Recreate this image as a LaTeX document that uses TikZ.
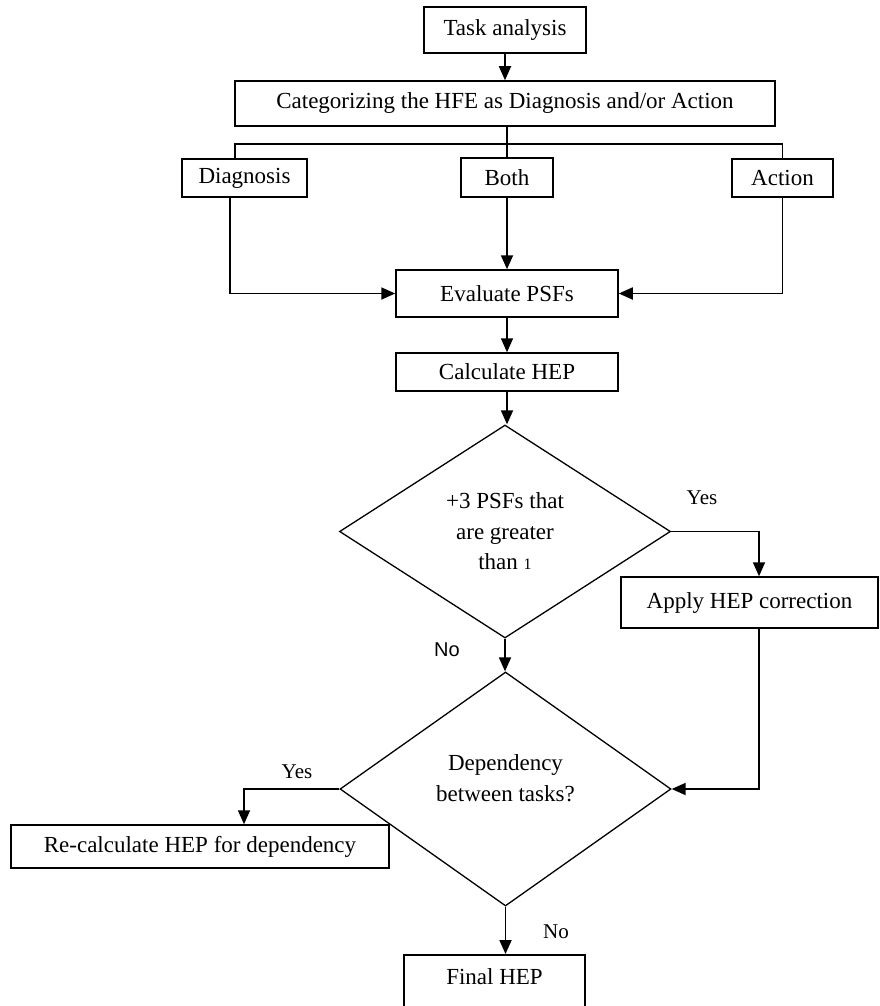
\documentclass[tikz,border=0pt]{standalone}
\usepackage{fontspec}
\setmainfont{Liberation Serif}
\newfontfamily\labelsans{Liberation Sans}
\usetikzlibrary{arrows.meta,shapes.geometric,positioning}
\tikzset{
	hep chart/.style={
		x=1pt, y=-1pt,
		font=\fontsize{23}{30.5}\selectfont,
		ar/.style={draw, line width=1.8pt, -{Triangle[length=14pt,width=12pt]}},
		wire/.style={draw, line width=1.7pt},
		lbl/.style={inner sep=0pt, font=\fontsize{21}{21}\selectfont}},
	blk/.style 2 args={draw, line width=1.5pt, inner sep=0pt,
		minimum width=#1, minimum height=#2},
	dec/.style 2 args={diamond, draw, line width=1.3pt, inner sep=0pt,
		align=center, aspect=1.5, minimum width=#1, minimum height=#2}
}
\begin{document}
\begin{tikzpicture}[hep chart]
   \useasboundingbox (0,0) rectangle (880,1006);
   \clip (0,0) rectangle (880,1006);
   \node[blk={162}{46}] (task) at (505,30) {Task analysis};
   \node[blk={540}{45}] (categ) at (505,103.5) {Categorizing the HFE as Diagnosis and/or Action};
   \node[blk={125}{38}] (diag) at (244.5,178) {Diagnosis};
   \node[blk={92}{39}] (both) at (507,177.5) {Both};
   \node[blk={101}{38}] (action) at (782.5,178) {Action};
   \node[blk={222}{47}] (psf) at (507,293.5) {Evaluate PSFs};
   \node[blk={222}{38}] (calc) at (507,372) {Calculate HEP};
   \node[dec={331}{213}] (corr) at (505,531.5) {+3 PSFs that\\are greater\\than {\fontsize{16}{16}\selectfont 1}};
   \node[blk={257}{51}] (apply) at (749.5,602.5) {Apply HEP correction};
   \node[dec={331}{234}, label={[align=center, yshift=11pt]center:Dependency\\between tasks?}] (dep) at (505.5,789) {};
   \node[blk={378}{43}] (recalc) at (200,846.5) {Re-calculate HEP for dependency};
   \node[blk={181}{0}, anchor=north, inner ysep=14pt, text height=16pt, text depth=40pt] (final) at (494.5,954) {Final HEP};
   \node[lbl] (yes1) at (702,498) {Yes};
   \node[lbl, font=\labelsans\fontsize{20}{20}\selectfont] (no1) at (447,650) {No};
   \node[lbl] (yes2) at (297,772) {Yes};
   \node[lbl] (no2) at (556,932) {No};
   \coordinate (bus) at (0,144);
   \draw[ar] (task.south) -- (task.south |- categ.north);
   \draw[wire] (both.north |- categ.south) -- (both.north);
   \draw[wire] ([xshift=-9.5]diag.north) |- (bus -| action.north) -- (action.north);
   \draw[ar] ([xshift=-14.5]diag.south) |- (psf.west);
   \draw[ar] (both.south) -- (psf.north);
   \draw[ar] (action.south) |- (psf.east);
   \draw[ar] (psf) -- (calc);
   \draw[ar] (calc.south) -- (calc.south |- corr.north);
   \draw[ar] (corr.east) -| ([xshift=9.5]apply.north);
   \draw[ar] ([xshift=9.5]apply.south) |- (dep.east);
   \draw[ar] (corr.south) -- (corr.south |- dep.north);
   \draw[ar] (dep.west) -| ([xshift=44]recalc.north);
   \draw[ar] (dep.south) -- (dep.south |- final.north);
\end{tikzpicture}
\end{document}
